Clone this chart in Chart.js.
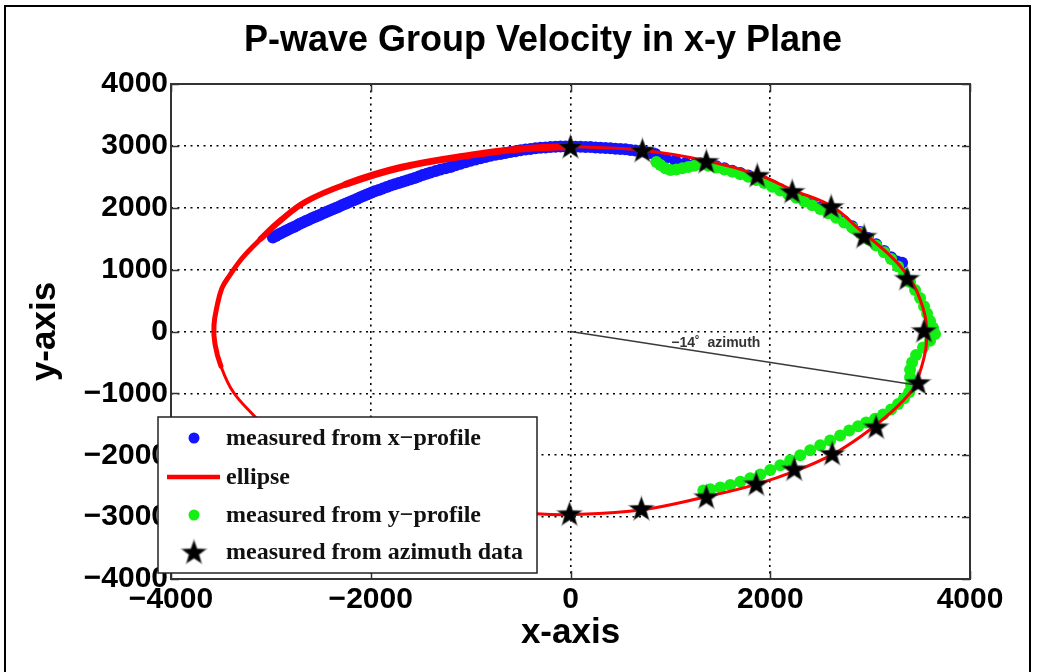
<!DOCTYPE html>
<html>
<head>
<meta charset="utf-8">
<script src="https://cdn.jsdelivr.net/npm/chart.js@4.4.1/dist/chart.umd.min.js"></script>
<style>
  html, body { margin: 0; padding: 0; background: #fff; }
  canvas { display: block; }
</style>
</head>
<body>
<canvas id="chart" width="1037" height="672"></canvas>
<script>
// Axis ticks
const xTickValues = [-4000, -2000, 0, 2000, 4000];
const xTickLabels = ['\u22124000', '\u22122000', '0', '2000', '4000'];
const yTickValues = [-4000, -3000, -2000, -1000, 0, 1000, 2000, 3000, 4000];
const yTickLabels = ['\u22124000', '\u22123000', '\u22122000', '\u22121000', '0', '1000', '2000', '3000', '4000'];

const chartTitle = 'P-wave Group Velocity in x-y Plane';

// Fitted ellipse, traced clockwise from the top
const ellipseX = [0, 720, 1390, 1890, 2220, 2620, 2900, 3130, 3300, 3420, 3500, 3560, 3560, 3490, 3420, 3200, 2920, 2620, 2260, 1860, 1360, 720, 0, -340, -1000, -1800, -2600, -2950, -3180, -3380, -3500, -3560, -3570, -3540, -3490, -3415, -3280, -3100, -2900, -2650, -2250, -1700, -1000, -500, 0];
const ellipseY = [2990, 2930, 2750, 2525, 2290, 2020, 1640, 1330, 1060, 800, 520, 160, -250, -700, -950, -1320, -1680, -1990, -2250, -2470, -2670, -2880, -2960, -2945, -2840, -2560, -2040, -1700, -1340, -970, -560, -200, 100, 400, 700, 900, 1200, 1500, 1800, 2100, 2380, 2650, 2850, 2950, 2990];

// Group velocity measured from the x-profile
const xProfileX = [-2980, -2950, -2920, -2890, -2860, -2830, -2800, -2770, -2740, -2710, -2680, -2650, -2620, -2590, -2560, -2530, -2500, -2470, -2440, -2410, -2380, -2350, -2320, -2290, -2260, -2230, -2200, -2170, -2140, -2110, -2080, -2050, -2020, -1990, -1960, -1920, -1880, -1840, -1800, -1760, -1720, -1680, -1640, -1600, -1560, -1520, -1480, -1440, -1400, -1350, -1300, -1250, -1200, -1150, -1100, -1050, -1000, -950, -900, -850, -800, -750, -700, -650, -600, -550, -500, -450, -400, -350, -300, -250, -200, -150, -100, -50, 0,
  50, 100, 150, 200, 250, 300, 350, 400, 450, 500, 550, 600, 650, 700, 750, 800, 850,
  950, 1050, 1150, 1240, 1300, 1380, 1460, 1540, 1620, 1700, 1780, 1860, 1940, 2020, 2100, 2180, 2260, 2340, 2420, 2500, 2580, 2660, 2740, 2820, 2900, 2980, 3060, 3140, 3210, 3270, 3320];
const xProfileY = [1520, 1545, 1570, 1595, 1620, 1645, 1670, 1690, 1715, 1740, 1760, 1785, 1805, 1830, 1850, 1870, 1890, 1915, 1935, 1955, 1975, 1995, 2015, 2040, 2060, 2080, 2100, 2120, 2140, 2165, 2185, 2205, 2225, 2245, 2265, 2285, 2310, 2335, 2360, 2380, 2400, 2420, 2440, 2460, 2480, 2505, 2530, 2550, 2570, 2595, 2620, 2640, 2660, 2685, 2710, 2735, 2760, 2780, 2800, 2820, 2840, 2855, 2870, 2885, 2900, 2915, 2930, 2940, 2950, 2960, 2970, 2975, 2980, 2985, 2990, 2990, 2990,
  2985, 2985, 2980, 2980, 2975, 2970, 2965, 2960, 2955, 2950, 2945, 2935, 2925, 2915, 2900, 2885, 2870,
  2800, 2760, 2720, 2700, 2720, 2700, 2670, 2640, 2600, 2560, 2520, 2470, 2420, 2360, 2300, 2240, 2180, 2120, 2060, 2000, 1930, 1860, 1780, 1700, 1610, 1510, 1410, 1300, 1200, 1130, 1110];

// Group velocity measured from the y-profile
const yProfileX = [860, 900, 950, 1000, 1060, 1120, 1180, 1240, 1300, 1380, 1460, 1540, 1620, 1700, 1780, 1860, 1940, 2020, 2100, 2180, 2260, 2340, 2420, 2500, 2580, 2660, 2740, 2820, 2900, 2980, 3060, 3140, 3210, 3280, 3340, 3400, 3450, 3500, 3540, 3570, 3600, 3630, 3650, 3600, 3530, 3460, 3420, 3400, 3400, 3410, 3390, 3340, 3280, 3210, 3130, 3050, 2960, 2880, 2790, 2700, 2600, 2500, 2400, 2300, 2200, 2100, 2000, 1900, 1800, 1700, 1600, 1500, 1400, 1330];
const yProfileY = [2740, 2690, 2640, 2610, 2620, 2640, 2660, 2680, 2700, 2680, 2650, 2620, 2580, 2540, 2500, 2450, 2400, 2340, 2280, 2220, 2160, 2100, 2040, 1980, 1910, 1840, 1760, 1680, 1590, 1490, 1390, 1280, 1170, 1050, 930, 800, 670, 540, 410, 290, 170, 60, -40, -150, -260, -380, -500, -620, -740, -860, -980, -1080, -1170, -1260, -1340, -1410, -1470, -1530, -1600, -1680, -1760, -1840, -1920, -2000, -2080, -2160, -2240, -2310, -2370, -2430, -2480, -2520, -2550, -2570];

// Group velocity measured from azimuth data
const azimuthX = [0, 720, 1360, 1870, 2220, 2610, 2940, 3370, 3540, 3480, 3060, 2620, 2240, 1860, 1360, 710, -10];
const azimuthY = [2990, 2930, 2750, 2525, 2265, 2020, 1540, 860, 15, -825, -1540, -1970, -2220, -2460, -2670, -2860, -2945];

// Reference azimuth ray
const azimuthDeg = -14;
const azimuthLength = 3550;

const legendLabels = ['measured from x\u2212profile', 'ellipse', 'measured from y\u2212profile', 'measured from azimuth data'];

const zip = (xs, ys) => xs.map((v, i) => ({ x: v, y: ys[i] }));

function makeStar(outer, inner) {
  const size = Math.ceil(outer * 2 + 4);
  const c = document.createElement('canvas');
  c.width = size; c.height = size;
  const g = c.getContext('2d');
  g.translate(size / 2, size / 2 + 1);
  g.beginPath();
  for (let i = 0; i < 10; i++) {
    const r = i % 2 ? inner : outer;
    const a = -Math.PI / 2 + i * Math.PI / 5;
    g.lineTo(r * Math.cos(a), r * Math.sin(a));
  }
  g.closePath();
  g.fillStyle = '#000';
  g.fill();
  g.strokeStyle = 'rgba(60,60,60,0.45)';
  g.lineWidth = 1.5;
  g.stroke();
  return c;
}
const starImg = makeStar(12.5, 5.2);

const rad = azimuthDeg * Math.PI / 180;
const rayX = [0, azimuthLength * Math.cos(rad)];
const rayY = [0, azimuthLength * Math.sin(rad)];

const SANS = '"Liberation Sans", Arial, Helvetica, sans-serif';
const SERIF = '"Liberation Serif", "Times New Roman", serif';

const decorPlugin = {
  id: 'decor',
  afterDatasetsDraw(chart) {
    const { ctx, chartArea: a, scales: { x, y } } = chart;
    ctx.save();
    ctx.setLineDash([]);
    // inward tick marks on all four sides
    ctx.strokeStyle = '#333';
    ctx.lineWidth = 1.5;
    ctx.beginPath();
    x.ticks.forEach(t => {
      const px = Math.round(x.getPixelForValue(t.value)) + 0.5;
      ctx.moveTo(px, a.bottom); ctx.lineTo(px, a.bottom - 8);
      ctx.moveTo(px, a.top); ctx.lineTo(px, a.top + 8);
    });
    y.ticks.forEach(t => {
      const py = Math.round(y.getPixelForValue(t.value)) + 0.5;
      ctx.moveTo(a.left, py); ctx.lineTo(a.left + 8, py);
      ctx.moveTo(a.right, py); ctx.lineTo(a.right - 8, py);
    });
    ctx.stroke();
    // axes box
    ctx.lineWidth = 2;
    ctx.strokeRect(a.left, a.top, a.right - a.left, a.bottom - a.top);

    // azimuth annotation sitting on the ray
    const t = 0.293;
    const tx = x.getPixelForValue(rayX[0] + (rayX[1] - rayX[0]) * t);
    const ty = y.getPixelForValue(rayY[0] + (rayY[1] - rayY[0]) * t);
    ctx.fillStyle = '#333';
    ctx.font = 'bold 14px ' + SANS;
    ctx.textAlign = 'left';
    ctx.textBaseline = 'alphabetic';
    ctx.fillText('\u2212' + Math.abs(azimuthDeg) + '\u02da  azimuth', tx, ty);
    ctx.restore();
  },
  afterDraw(chart) {
    const { ctx } = chart;
    ctx.save();
    ctx.setLineDash([]);
    // title
    ctx.fillStyle = '#000';
    ctx.font = 'bold 36px ' + SANS;
    ctx.textAlign = 'center';
    ctx.textBaseline = 'middle';
    ctx.fillText(chartTitle, 543, 41);
    // legend
    const box = { left: 158, top: 417, right: 537, bottom: 573 };
    ctx.fillStyle = '#fff';
    ctx.fillRect(box.left, box.top, box.right - box.left, box.bottom - box.top);
    ctx.strokeStyle = '#222';
    ctx.lineWidth = 1.5;
    ctx.strokeRect(box.left, box.top, box.right - box.left, box.bottom - box.top);
    const rows = [438, 477, 515, 552];
    const symX = 194;
    chart.data.datasets.slice(0, 4).forEach((ds, i) => {
      const ry = rows[i];
      if (ds.pointStyle instanceof HTMLCanvasElement) {
        ctx.drawImage(ds.pointStyle, symX - ds.pointStyle.width / 2, ry - ds.pointStyle.height / 2);
      } else if (ds.showLine) {
        ctx.strokeStyle = ds.borderColor;
        ctx.lineWidth = 4.5;
        ctx.beginPath(); ctx.moveTo(167, ry); ctx.lineTo(220, ry); ctx.stroke();
      } else {
        ctx.fillStyle = ds.pointBackgroundColor;
        ctx.beginPath(); ctx.arc(symX, ry, 5.5, 0, Math.PI * 2); ctx.fill();
      }
      ctx.fillStyle = '#111';
      ctx.font = 'bold 24px ' + SERIF;
      ctx.textAlign = 'left';
      ctx.textBaseline = 'middle';
      ctx.fillText(ds.label, 226, ry + 1);
    });
    // figure frame
    ctx.strokeStyle = '#000';
    ctx.lineWidth = 2;
    ctx.strokeRect(5, 6, 1025, 700);
    ctx.restore();
  }
};

new Chart(document.getElementById('chart'), {
  type: 'scatter',
  data: {
    datasets: [
      {
        label: legendLabels[0],
        data: zip(xProfileX, xProfileY),
        pointRadius: 6,
        pointBackgroundColor: 'rgb(20,20,255)',
        pointBorderWidth: 0,
        order: 4
      },
      {
        label: legendLabels[1],
        data: zip(ellipseX, ellipseY),
        showLine: true,
        pointRadius: 0,
        borderColor: 'rgb(255,0,0)',
        borderWidth: 3,
        borderCapStyle: 'round',
        borderJoinStyle: 'round',
        tension: 0.4,
        segment: {
          borderWidth: c => {
            const p = c.p0.parsed;
            if (p.x < 0 && p.y > 2100) return 7;
            if (p.x < 0 && p.y > 1200) return 6;
            if (p.x < 0 && p.y > -600) return 5;
            return 3;
          }
        },
        order: 2
      },
      {
        label: legendLabels[2],
        data: zip(yProfileX, yProfileY),
        pointRadius: 6,
        pointBackgroundColor: 'rgb(20,240,20)',
        pointBorderWidth: 0,
        order: 3
      },
      {
        label: legendLabels[3],
        data: zip(azimuthX, azimuthY),
        pointStyle: starImg,
        pointRadius: 12,
        order: 0
      },
      {
        label: '',
        data: zip(rayX, rayY),
        showLine: true,
        pointRadius: 0,
        borderColor: '#3a3a3a',
        borderWidth: 1.5,
        tension: 0,
        order: 1
      }
    ]
  },
  options: {
    responsive: false,
    animation: false,
    events: [],
    layout: { padding: { left: 8, right: 67, top: 84, bottom: 0 } },
    plugins: {
      legend: { display: false },
      tooltip: { enabled: false },
      title: { display: false }
    },
    scales: {
      x: {
        type: 'linear',
        position: 'bottom',
        min: -4000,
        max: 4000,
        afterFit: s => { s.height = 93; },
        afterBuildTicks: s => { s.ticks = xTickValues.map(v => ({ value: v })); },
        ticks: {
          autoSkip: false,
          maxRotation: 0,
          padding: 3,
          color: '#000',
          font: { family: SANS, size: 30, weight: 'bold', lineHeight: 1.2 },
          callback: v => xTickLabels[xTickValues.indexOf(v)]
        },
        grid: { color: '#000', lineWidth: 1.6, drawTicks: false },
        border: { display: false, dash: [2, 4.5] },
        title: {
          display: true,
          text: 'x-axis',
          color: '#000',
          font: { family: SANS, size: 35, weight: 'bold', lineHeight: 1.2 },
          padding: { top: 0, bottom: 18 }
        }
      },
      y: {
        type: 'linear',
        min: -4000,
        max: 4000,
        afterFit: s => { s.width = 163; },
        afterBuildTicks: s => { s.ticks = yTickValues.map(v => ({ value: v })); },
        ticks: {
          autoSkip: false,
          padding: 3,
          color: '#000',
          font: { family: SANS, size: 30, weight: 'bold', lineHeight: 1.2 },
          callback: v => yTickLabels[yTickValues.indexOf(v)]
        },
        grid: { color: '#000', lineWidth: 1.6, drawTicks: false },
        border: { display: false, dash: [2, 4.5] },
        title: {
          display: true,
          text: 'y-axis',
          color: '#000',
          font: { family: SANS, size: 35, weight: 'bold', lineHeight: 1.2 },
          padding: { top: 16, bottom: 0 }
        }
      }
    }
  },
  plugins: [decorPlugin]
});
</script>
</body>
</html>
